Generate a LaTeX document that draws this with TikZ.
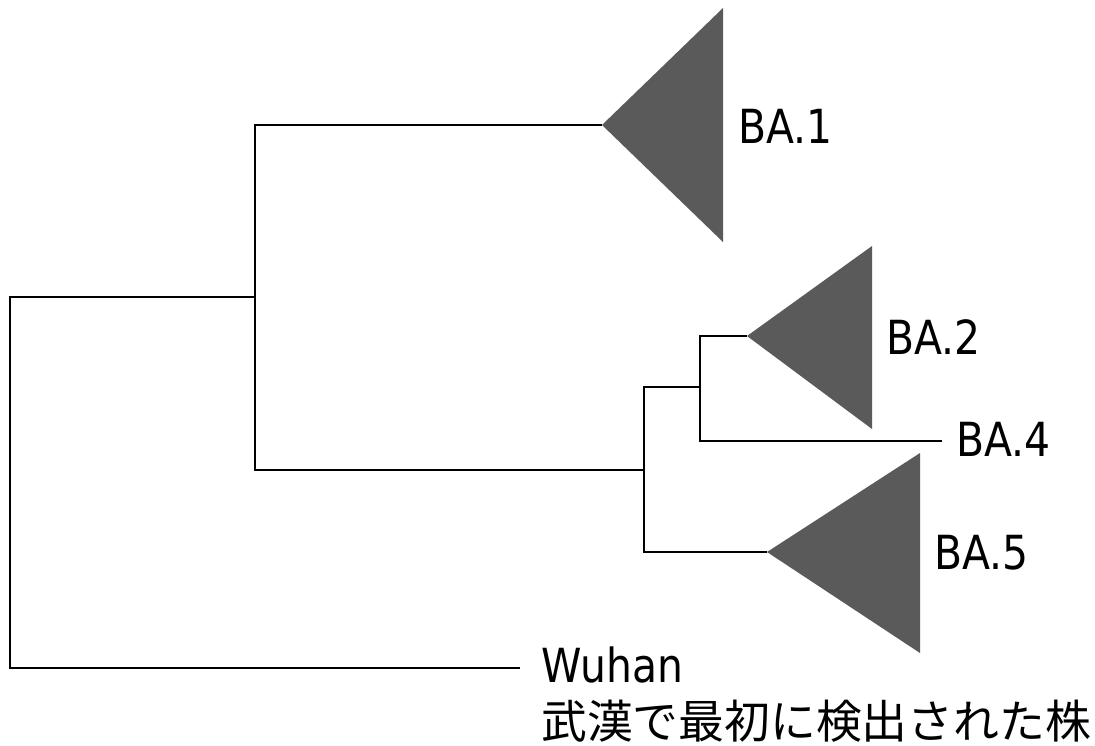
\documentclass[tikz,border=0pt]{standalone}
\usepackage{fontspec}
\setmainfont{DejaVu Sans}[FakeStretch=0.87]
\newfontfamily\jpfont{Noto Sans CJK JP}
\definecolor{cladegray}{HTML}{5A5A5A}

\begin{document}
\begin{tikzpicture}[x=1pt,y=-1pt,
    branch/.style={line width=2.2pt},
    clade/.style={fill=cladegray},
    lbl/.style={font=\fontsize{47}{50}\selectfont, inner sep=0pt, anchor=west}]
  \useasboundingbox (0,0) rectangle (1095,745);
  % internal nodes of the tree
  \coordinate (root) at (10,480);
  \coordinate (nA) at (255,297);
  \coordinate (nB) at (644,470);
  \coordinate (nC) at (700,387);
  % tips of the collapsed clades and the single leaves
  \coordinate (tip1) at (602,125);
  \coordinate (tip2) at (747,336);
  \coordinate (tip5) at (767,552);
  \coordinate (end4) at (942,441);
  \coordinate (endW) at (520,668);
  % branches
  \draw[branch] (root) |- (nA);
  \draw[branch] (root) |- (endW);
  \draw[branch] (nA) |- (tip1);
  \draw[branch] (nA) |- (nB);
  \draw[branch] (nB) |- (nC);
  \draw[branch] (nB) |- (tip5);
  \draw[branch] (nC) |- (tip2);
  \draw[branch] (nC) |- (end4);
  % collapsed clades
  \fill[clade] (tip1) -- ++(121,-117) -- ++(0,234) -- cycle;
  \fill[clade] (tip2) -- ++(125,-90) -- ++(0,183) -- cycle;
  \fill[clade] (tip5) -- ++(153,-99) -- ++(0,200) -- cycle;
  % labels
  \node[lbl] (ba1) at (738,126) {BA.1};
  \node[lbl] (ba2) at (886,337) {BA.2};
  \node[lbl] (ba4) at (956,439) {BA.4};
  \node[lbl] (ba5) at (934,553) {BA.5};
  \node[lbl, anchor=base west] (wuhan) at (541,682) {Wuhan};
  \node[inner sep=0pt, anchor=base west, font=\jpfont\fontsize{45.8}{48}\selectfont]
    (wuhanjp) at (541,738) {武漢で最初に検出された株};
\end{tikzpicture}
\end{document}
